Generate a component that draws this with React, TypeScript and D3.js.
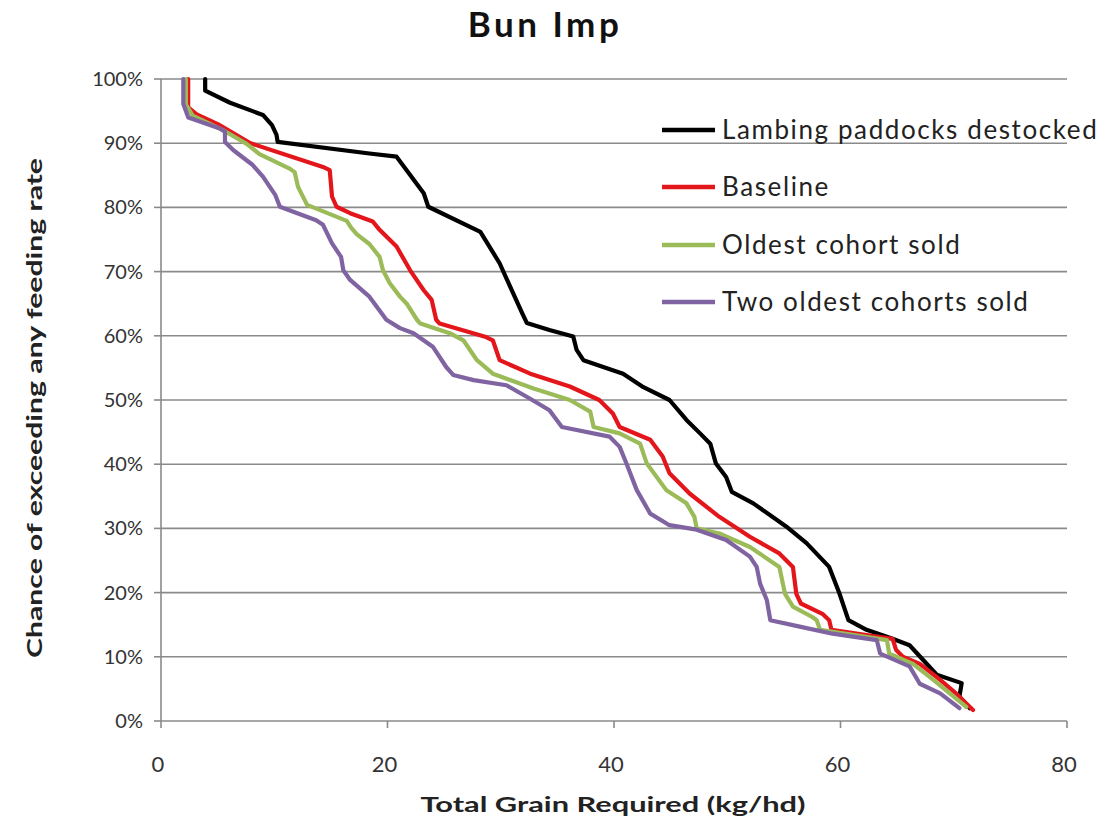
import * as d3 from 'd3'

// series points: [grain kg/hd, chance %]
const lambingPoints: [number, number][] = [
  [3.9, 100], [3.9, 98.2], [6.1, 96.3], [9.0, 94.4], [9.8, 92.8], [10.2, 91.3], [10.3, 90.2],
  [18.4, 88.4], [20.8, 87.9], [23.2, 82.2], [23.6, 80.1], [28.2, 76.2], [29.9, 71.3],
  [31.1, 66.6], [31.9, 63.5], [32.3, 62.0], [34.3, 60.9], [36.4, 59.9], [36.7, 57.8],
  [37.3, 56.2], [40.8, 54.1], [42.6, 52.0], [44.9, 50.0], [46.4, 46.9], [47.6, 44.8],
  [48.5, 43.2], [49.0, 40.1], [49.9, 38.0], [50.4, 35.7], [52.3, 33.9], [55.2, 30.3],
  [57.0, 27.7], [59.0, 24.0], [59.9, 19.9], [60.7, 15.7], [62.3, 14.2], [64.6, 12.8],
  [66.1, 11.8], [67.3, 9.5], [68.5, 7.2], [70.7, 5.9], [70.5, 3.8], [71.4, 2.0],
]

const baselinePoints: [number, number][] = [
  [2.4, 100], [2.4, 95.6], [3.15, 94.5], [5.2, 92.8], [7.9, 90.0], [14.3, 86.3], [14.9, 85.8],
  [15.1, 81.7], [15.5, 80.1], [16.7, 79.1], [18.7, 77.8], [19.3, 76.5], [20.8, 73.9],
  [22.0, 70.2], [23.2, 67.1], [23.9, 65.6], [24.3, 62.5], [24.6, 61.9], [28.7, 59.8],
  [29.3, 59.3], [29.9, 56.2], [32.6, 54.1], [36.1, 52.1], [38.7, 50.0], [39.9, 47.9],
  [40.5, 45.8], [43.2, 43.8], [44.3, 41.2], [44.9, 38.6], [46.7, 35.4], [49.3, 31.8],
  [52.0, 28.7], [54.6, 26.1], [55.8, 24.0], [56.1, 19.8], [56.5, 18.3], [58.4, 16.7],
  [59.0, 15.7], [59.2, 14.2], [62.3, 13.4], [64.6, 12.8], [64.9, 11.1], [65.5, 10.0],
  [67.0, 8.9], [68.8, 6.4], [70.2, 4.3], [71.7, 1.7],
]

const oldestPoints: [number, number][] = [
  [2.2, 100], [2.2, 96.0], [2.8, 94.3], [5.5, 92.0], [5.8, 91.7], [7.56, 89.9], [8.7, 88.3],
  [11.4, 86.0], [11.8, 85.5], [12.1, 83.2], [12.9, 80.4], [16.4, 77.9], [16.8, 76.8],
  [17.3, 75.8], [18.4, 74.3], [19.3, 72.3], [19.6, 70.2], [20.2, 68.2], [21.1, 66.1],
  [21.7, 65.0], [22.6, 62.5], [22.9, 61.9], [25.5, 60.4], [26.7, 59.3], [27.9, 56.2],
  [29.3, 54.1], [32.9, 51.8], [36.1, 50.0], [37.9, 48.2], [38.2, 45.8], [40.5, 44.8],
  [42.3, 43.2], [42.9, 40.1], [44.6, 36.0], [46.4, 33.9], [47.1, 31.8], [47.3, 30.0],
  [49.3, 29.2], [52.0, 27.1], [54.6, 24.0], [55.1, 19.8], [55.8, 17.8], [57.5, 16.2],
  [57.9, 15.7], [58.2, 14.2], [64.1, 12.6], [64.3, 10.5], [66.4, 8.9], [68.2, 6.4], [71.1, 2.2],
]

const twoOldestPoints: [number, number][] = [
  [1.97, 100], [1.97, 96.1], [2.41, 94.0], [5.2, 92.3], [5.65, 91.8], [5.65, 90.2], [6.4, 88.9],
  [8.1, 86.6], [9.0, 84.8], [10.1, 81.9], [10.5, 80.1], [13.7, 78.0], [14.3, 77.3],
  [15.1, 74.4], [15.9, 72.3], [16.1, 70.2], [16.7, 68.7], [18.4, 66.1], [19.9, 62.5],
  [21.1, 61.2], [22.3, 60.4], [24.0, 58.3], [25.2, 55.1], [25.8, 53.9], [27.6, 53.1],
  [30.5, 52.3], [32.6, 50.2], [34.3, 48.4], [35.4, 45.8], [39.6, 44.3], [40.5, 42.7],
  [41.1, 40.1], [42.0, 36.0], [43.2, 32.3], [44.9, 30.5], [47.3, 29.8], [49.9, 28.2],
  [52.0, 25.6], [52.6, 24.0], [52.9, 21.4], [53.5, 18.8], [53.8, 15.7], [56.4, 14.7],
  [59.3, 13.6], [63.2, 12.6], [63.5, 10.5], [66.1, 8.5], [67.0, 5.8], [68.8, 4.3], [70.5, 2.0],
]

const seriesNames = ['Lambing paddocks destocked', 'Baseline', 'Oldest cohort sold', 'Two oldest cohorts sold']
const seriesColors = ['#000000', '#e3161c', '#9bbb59', '#8064a2']
const seriesPoints = [lambingPoints, baselinePoints, oldestPoints, twoOldestPoints]

const xTicks = [0, 20, 40, 60, 80]
const yTicks = [0, 10, 20, 30, 40, 50, 60, 70, 80, 90, 100]

const font = 'Lato, "Open Sans", sans-serif'

export default function App() {
  const width = 1109
  const height = 825
  const x = d3.scaleLinear().domain([0, 80]).range([161, 1067])
  const y = d3.scaleLinear().domain([0, 100]).range([721, 79])
  const line = d3.line<[number, number]>().x(d => x(d[0])).y(d => y(d[1]))
  const gridColor = '#8a8a8a'

  return (
    <svg width={width} height={height} style={{ position: 'absolute', left: 0, top: 0, background: '#fff' }}>
      {/* title */}
      <text x={545} y={37} textAnchor="middle" fontFamily={font} fontWeight="bold" fontSize={35}
        letterSpacing={3.5} fill="#111">
        Bun Imp
      </text>

      {/* gridlines */}
      {yTicks.filter(t => t > 0).map(t => (
        <line key={t} x1={x(0)} x2={x(80)} y1={y(t)} y2={y(t)} stroke={gridColor} strokeWidth={1.6} />
      ))}

      {/* axes */}
      <line x1={x(0)} x2={x(0)} y1={y(0)} y2={y(100)} stroke={gridColor} strokeWidth={1.6} />
      <line x1={x(0)} x2={x(80)} y1={y(0)} y2={y(0)} stroke={gridColor} strokeWidth={1.6} />
      {yTicks.map(t => (
        <g key={t}>
          <line x1={x(0) - 7} x2={x(0)} y1={y(t)} y2={y(t)} stroke={gridColor} strokeWidth={1.6} />
          <text x={143} y={y(t) + 7} textAnchor="end" fontFamily={font} fontSize={20} fill="#333">
            {t}%
          </text>
        </g>
      ))}
      {xTicks.map(t => (
        <g key={t}>
          <line x1={x(t)} x2={x(t)} y1={y(0)} y2={y(0) + 7} stroke={gridColor} strokeWidth={1.6} />
          <text x={x(t) - 3} y={772} textAnchor="middle" fontFamily={font} fontSize={22} fill="#333">
            {t}
          </text>
        </g>
      ))}

      {/* axis titles */}
      <text x={613} y={812} textAnchor="middle" fontFamily={font} fontWeight="bold" fontSize={21}
        fill="#222" textLength={385} lengthAdjust="spacingAndGlyphs">
        Total Grain Required (kg/hd)
      </text>
      <text transform="translate(42,408) rotate(-90)" textAnchor="middle" fontFamily={font} fontWeight="bold"
        fontSize={21} fill="#222" textLength={500} lengthAdjust="spacingAndGlyphs">
        Chance of exceeding any feeding rate
      </text>

      {/* series */}
      {seriesPoints.map((pts, i) => (
        <path key={i} d={line(pts) ?? ''} fill="none" stroke={seriesColors[i]} strokeWidth={4.2}
          strokeLinejoin="round" strokeLinecap="round" />
      ))}

      {/* legend */}
      {seriesNames.map((name, i) => {
        const ly = [130, 187, 245, 302][i]
        return (
          <g key={name}>
            <line x1={662} x2={715} y1={ly} y2={ly} stroke={seriesColors[i]} strokeWidth={4.5} />
            <text x={722} y={ly + 9} fontFamily={font} fontSize={26} letterSpacing={1.6} fill="#222">
              {name}
            </text>
          </g>
        )
      })}
    </svg>
  )
}
